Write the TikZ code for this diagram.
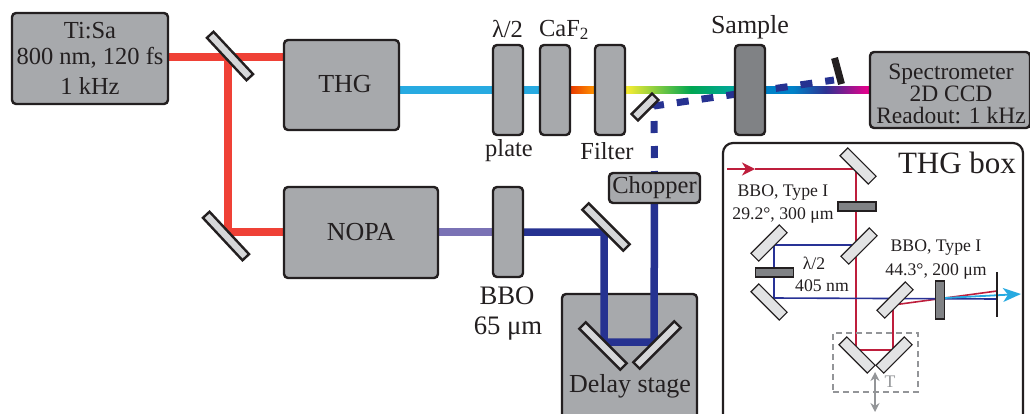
\documentclass[tikz,border=0pt]{standalone}
\usepackage{fontspec}
\setmainfont{Liberation Serif}
\usetikzlibrary{arrows.meta}

\definecolor{boxgray}{RGB}{167,169,172}
\definecolor{darkgray}{RGB}{128,130,133}
\definecolor{mirrorgray}{RGB}{214,215,217}
\definecolor{inkblack}{RGB}{35,31,32}
\definecolor{pumpred}{RGB}{239,65,54}
\definecolor{thgcyan}{RGB}{39,170,225}
\definecolor{uvblue}{RGB}{38,50,145}
\definecolor{nopaviolet}{RGB}{122,114,181}
\definecolor{thinred}{RGB}{190,30,60}
\definecolor{thinblue}{RGB}{40,50,150}
\definecolor{markgray}{RGB}{147,149,152}

\pgfdeclarelayer{stage}
\pgfdeclarelayer{beams}
\pgfsetlayers{stage,beams,main}

\pgfdeclarehorizontalshading{redorange}{100bp}{color(0bp)=(red!85!black); color(25bp)=(red!85!black); color(75bp)=(orange!85!yellow); color(100bp)=(orange!85!yellow)}
\definecolor{rbyellow}{RGB}{249,237,50}
\definecolor{rbgreen}{RGB}{0,166,81}
\definecolor{rbteal}{RGB}{0,167,157}
\definecolor{rbblue}{RGB}{0,130,200}
\definecolor{rbindigo}{RGB}{46,49,146}
\definecolor{rbmagenta}{RGB}{236,0,140}
\pgfdeclarehorizontalshading{rainbowbeam}{100bp}{color(0bp)=(rbyellow); color(25bp)=(rbyellow); color(55bp)=(rbgreen); color(75bp)=(rbteal); color(100bp)=(rbteal)}
\pgfdeclarehorizontalshading{sampleout}{100bp}{color(0bp)=(rbblue); color(25bp)=(rbblue); color(38bp)=(rbblue); color(54bp)=(rbindigo); color(75bp)=(rbmagenta); color(100bp)=(rbmagenta)}

\tikzset{
  optbox/.style={draw=inkblack,fill=boxgray,rounded corners=4pt,line width=2.4pt,inner sep=0pt,align=center,text=inkblack,font=\fontsize{24.5}{28}\selectfont},
  darkbox/.style={optbox,fill=darkgray},
  mirrorbig/.style={draw=inkblack,fill=mirrorgray,line width=2.4pt,minimum width=58pt,minimum height=9pt,inner sep=0pt},
  mirrorsmall/.style={draw=inkblack,fill=mirrorgray!70!white,line width=1.1pt,minimum width=40pt,minimum height=11pt,inner sep=0pt},
  crystal/.style={draw=inkblack,fill=darkgray,line width=1.1pt,inner sep=0pt},
  labeltext/.style={text=inkblack,inner sep=0pt,align=center,font=\fontsize{24.5}{28}\selectfont},
  smalltext/.style={text=inkblack,inner sep=0pt,align=center,font=\fontsize{17.7}{23}\selectfont},
  thickbeam/.style={line width=7.5pt},
  thinbeam/.style={line width=1.6pt},
}

\begin{document}
\begin{tikzpicture}[x=1pt,y=1pt,yscale=-1,xscale=1]
\path[use as bounding box,clip] (0,0) rectangle (1030,413);

%Shape: Boxes
\node[optbox,minimum width=156pt,minimum height=91pt] (tisa) at (90,58.5) {Ti:Sa\\[-2pt]800 nm, 120 fs\\[2pt]1 kHz};
\node[optbox,minimum width=115pt,minimum height=90pt] (thg) at (341.5,85) {};
\node[optbox,minimum width=154pt,minimum height=91pt] (nopa) at (361,232.5) {};
\node[optbox,minimum width=30pt,minimum height=90pt] (halfwave) at (508,90) {};
\node[optbox,minimum width=30pt,minimum height=90pt] (caf) at (555,90) {};
\node[optbox,minimum width=30pt,minimum height=90pt] (filter) at (610,90) {};
\node[darkbox,minimum width=30pt,minimum height=90pt] (sample) at (750,90) {};
\node[optbox,minimum width=160pt,minimum height=76pt] (spectro) at (950,90) {};
\node[optbox,minimum width=30pt,minimum height=90pt] (bbo) at (508,232) {};
\node[optbox,minimum width=91pt,minimum height=30pt] (chopper) at (654.5,188) {Chopper};
\begin{pgfonlayer}{stage}
\node[optbox,minimum width=135pt,minimum height=131pt] (delay) at (629.5,359.5) {};
\end{pgfonlayer}
\node[draw=inkblack,line width=2.2pt,rounded corners=10pt,minimum width=300pt,minimum height=282pt] (thgbox) at (873,284) {};

%Shape: Mirrors
\node[mirrorbig,rotate=-47] (split) at (230,56) {};
\node[mirrorbig,rotate=-47] (foldnopa) at (226,236) {};
\node[mirrorbig,rotate=-45,minimum width=58pt] (foldblue) at (606,227) {};
\node[mirrorbig,rotate=-45] (delayleft) at (603,346) {};
\node[mirrorbig,rotate=45] (delayright) at (657,345) {};
\node[mirrorbig,rotate=45,minimum width=29pt] (pickup) at (645,107) {};
\node[draw=none,fill=inkblack,minimum width=7pt,minimum height=27pt,inner sep=0pt,rotate=15] (block) at (838,71) {};

%Shape: Inside of the THG box
\node[mirrorsmall,rotate=-45] (inone) at (858,166) {};
\node[mirrorsmall,rotate=45] (dichroic) at (859,246) {};
\node[mirrorsmall,rotate=45] (upleft) at (769,243) {};
\node[mirrorsmall,rotate=-45] (lowleft) at (769,302) {};
\node[mirrorsmall,rotate=45] (combine) at (895,300) {};
\node[mirrorsmall,rotate=-45] (transleft) at (857,355) {};
\node[mirrorsmall,rotate=45] (transright) at (894,355) {};
\node[crystal,minimum width=38pt,minimum height=9pt] (bboone) at (857,206.5) {};
\node[crystal,minimum width=38pt,minimum height=9pt] (halfsmall) at (774.5,272.5) {};
\node[crystal,minimum width=9pt,minimum height=38pt] (bbotwo) at (940,300) {};
\node[draw=markgray,dash pattern={on 6pt off 4pt},line width=1.2pt,minimum width=85pt,minimum height=59pt,inner sep=0pt] (transbox) at (875.5,362.5) {};

%Shape: Turning points
\coordinate (turnsplit) at (228,57);
\coordinate (turnnopa) at (228,232);
\coordinate (turnblue) at (604,232);
\coordinate (turnleft) at (604,342);
\coordinate (turnright) at (654,342);
\coordinate (turnpick) at (654,106);
\coordinate (blockhit) at (834,80);
\coordinate (smallin) at (727,169);
\coordinate (smallhead) at (755,169);
\coordinate (smalltop) at (856,169);
\coordinate (smallblue) at (856,245);
\coordinate (smallbottom) at (856,350);
\coordinate (smallright) at (893,350);
\coordinate (smallup) at (893,305);
\coordinate (slitred) at (997,291);
\coordinate (smallul) at (774,245);
\coordinate (smallll) at (774,298);
\coordinate (slitblue) at (997,299);
\coordinate (cyanstart) at (944,298);
\coordinate (cyanend) at (1021,294);
\coordinate (slittop) at (997,272);
\coordinate (slitbottom) at (997,317);
\coordinate (moveup) at (875,372);
\coordinate (movedown) at (875,412);

\begin{pgfonlayer}{beams}
%Shape: Beams
\draw[thickbeam,pumpred] (tisa.east |- turnsplit) -- (thg.west |- turnsplit);
\draw[thickbeam,pumpred] (turnsplit) -- (turnnopa) -- (nopa.west |- turnnopa);
\draw[thickbeam,thgcyan] (thg.east |- caf) -- (caf);
\draw[thickbeam,nopaviolet] (nopa.east |- bbo) -- (bbo);
\draw[thickbeam,uvblue] (bbo.center) -- (turnblue) -- (turnleft) -- (turnright) -- (chopper.center);
\path[shading=redorange] ([yshift=-3.75pt]caf.center) rectangle ([yshift=3.75pt]filter.west);
\path[shading=rainbowbeam] ([yshift=-3.75pt]filter.east) rectangle ([yshift=3.75pt]sample.west);
\path[shading=sampleout] ([yshift=-3.75pt]sample.east) rectangle ([yshift=3.75pt]spectro.west);
\draw[line width=7pt,uvblue,dash pattern={on 12pt off 13pt},dash phase=20pt] (chopper.center) -- (turnpick) -- (blockhit);
%Shape: Thin beams of the THG box
\draw[thinbeam,thinred,-{Stealth[length=13pt,width=13pt,inset=4pt]}] (smallin) -- (smallhead);
\draw[thinbeam,thinred] (smallhead) -- (smalltop) -- (smallbottom) -- (smallright) -- (smallup) -- (slitred);
\draw[thinbeam,thinblue] (smallblue) -- (smallul) -- (smallll) -- (slitblue);
\draw[line width=1.8pt,thgcyan,-{Stealth[length=18pt,width=14pt,inset=5pt]}] (cyanstart) -- (cyanend);
\end{pgfonlayer}
\draw[line width=1.4pt,inkblack] (slittop) -- (slitbottom);
\draw[line width=1.5pt,markgray,{Stealth[length=9pt,width=9pt]}-{Stealth[length=9pt,width=9pt]}] (moveup) -- (movedown);

% Text Node
\node[labeltext,font=\fontsize{26}{28}\selectfont] (thglabel) at (345,84) {THG};
\node[labeltext,font=\fontsize{26}{28}\selectfont] (nopalabel) at (361,232) {NOPA};
\node[labeltext,font=\fontsize{23.5}{22}\selectfont] (spectrolabel) at (951,94) {Spectrometer\\2D CCD\\Readout: 1 kHz};
\node[labeltext] (halflabel) at (507.5,29) {λ/2};
\node[labeltext] (caflabel) at (564,30) {CaF\textsubscript{2}};
\node[labeltext,font=\fontsize{26}{28}\selectfont] (samplelabel) at (750,27) {Sample};
\node[labeltext] (platelabel) at (509,151) {plate};
\node[labeltext] (filterlabel) at (607,151) {Filter};
\node[labeltext,font=\fontsize{26.7}{28}\selectfont] (bbolabel) at (507,296) {BBO};
\node[labeltext,font=\fontsize{26.7}{28}\selectfont] (bbothick) at (508,329) {65 μm};
\node[labeltext,font=\fontsize{26}{28}\selectfont] (delaylabel) at (630,386) {Delay stage};
\node[smalltext] (bbooneone) at (783,193) {BBO, Type I};
\node[smalltext] (bboonetwo) at (783,216) {29.2°, 300 μm};
\node[smalltext] (halfone) at (814,263) {λ/2};
\node[smalltext] (halftwo) at (822,286) {405 nm};
\node[smalltext] (bbotwoone) at (936,248) {BBO, Type I};
\node[smalltext] (bbotwotwo) at (936,272) {44.3°, 200 μm};
\node[smalltext,text=markgray] (movelabel) at (890,382) {T};
\node[labeltext,font=\fontsize{31}{34}\selectfont] (thgboxlabel) at (957,163) {THG box};

\end{tikzpicture}
\end{document}
